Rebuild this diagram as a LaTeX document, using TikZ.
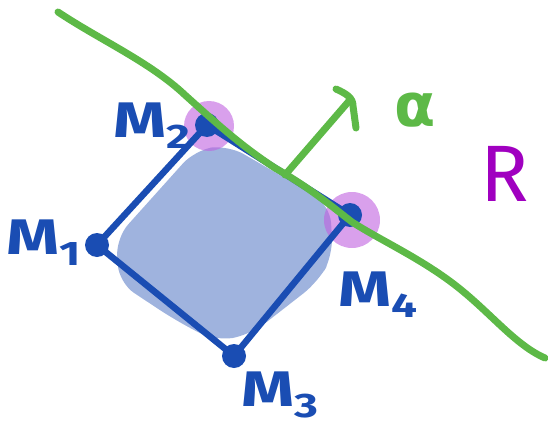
\documentclass[tikz,border=0pt]{standalone}
\usepackage{fontspec}
\setmainfont{Fira Sans}
\newfontfamily\symfont{DejaVu Sans}
\definecolor{pblue}{HTML}{1A4DB3}
\definecolor{pfill}{HTML}{9FB3DE}
\definecolor{pgreen}{HTML}{5DB947}
\definecolor{ppurple}{HTML}{C060E0}
\definecolor{rpurple}{HTML}{A000C0}
\tikzset{
  vdot/.style={circle,fill=pblue,inner sep=0pt,minimum size=24pt},
  edgeline/.style={draw=pblue,line width=6.5pt,line cap=round,line join=round},
  halo/.style={fill=ppurple,fill opacity=0.6},
  gline/.style={draw=pgreen,line width=7pt,line cap=round,line join=round},
  lbl/.style={text=pblue,inner sep=0pt,xscale=1.35,font=\bfseries\fontsize{50}{50}\selectfont}
}
\newcommand{\sublbl}[2]{#1\raisebox{-11pt}{\fontsize{34}{34}\selectfont #2}}
\begin{document}
\begin{tikzpicture}[x=1pt,y=-1pt]
\useasboundingbox (0,0) rectangle (548,428);
% fill blob
\fill[pfill,rounded corners=18pt] (116,238) -- (195,150) -- (228,145) -- (285,178) -- (330,205) -- (333,255) -- (318,282) -- (250,335) -- (215,341) -- (175,320) -- (119,283) -- cycle;
% halos
\fill[halo] (209,126) circle (25);
\fill[halo] (352,220) circle (28);
% vertices
\node[vdot] (m1) at (97,245) {};
\node[vdot] (m2) at (207,125) {};
\node[vdot] (m4) at (350,215) {};
\node[vdot] (m3) at (234,356) {};
\draw[edgeline] (m1.center) -- (m2.center) -- (m4.center) -- (m3.center) -- cycle;
% green line
\draw[gline] (58,12) .. controls (100,40) and (150,62) .. (185,95)
  .. controls (215,122) and (240,145) .. (275,168)
  .. controls (310,188) and (330,205) .. (352,222)
  .. controls (380,240) and (420,258) .. (455,285)
  .. controls (490,312) and (515,345) .. (545,358);
% arrow
\coordinate (abase) at (285,175);
\coordinate (atip) at (349,101);
\coordinate (hookA) at (336,89);
\coordinate (hookB) at (356,128);
\draw[gline] (abase) -- (atip);
\draw[gline] (hookA) .. controls (347,94) and (353,98) .. (353,106) -- (hookB);
% labels
\node[lbl,anchor=center] (l1) at (44,243) {\sublbl{M}{1}};
\node[lbl,anchor=center] (l2) at (152,126) {\sublbl{M}{2}};
\node[lbl,anchor=center] (l3) at (280,395) {\sublbl{M}{3}};
\node[lbl,anchor=center] (l4) at (378,295) {\sublbl{M}{4}};
\node[text=pgreen,inner sep=0pt,font=\symfont\bfseries\fontsize{60}{60}\selectfont] (alpha) at (415,110) {α};
\node[text=rpurple,inner sep=0pt,font=\fontsize{80}{80}\selectfont] (R) at (505,174) {R};
\end{tikzpicture}
\end{document}
